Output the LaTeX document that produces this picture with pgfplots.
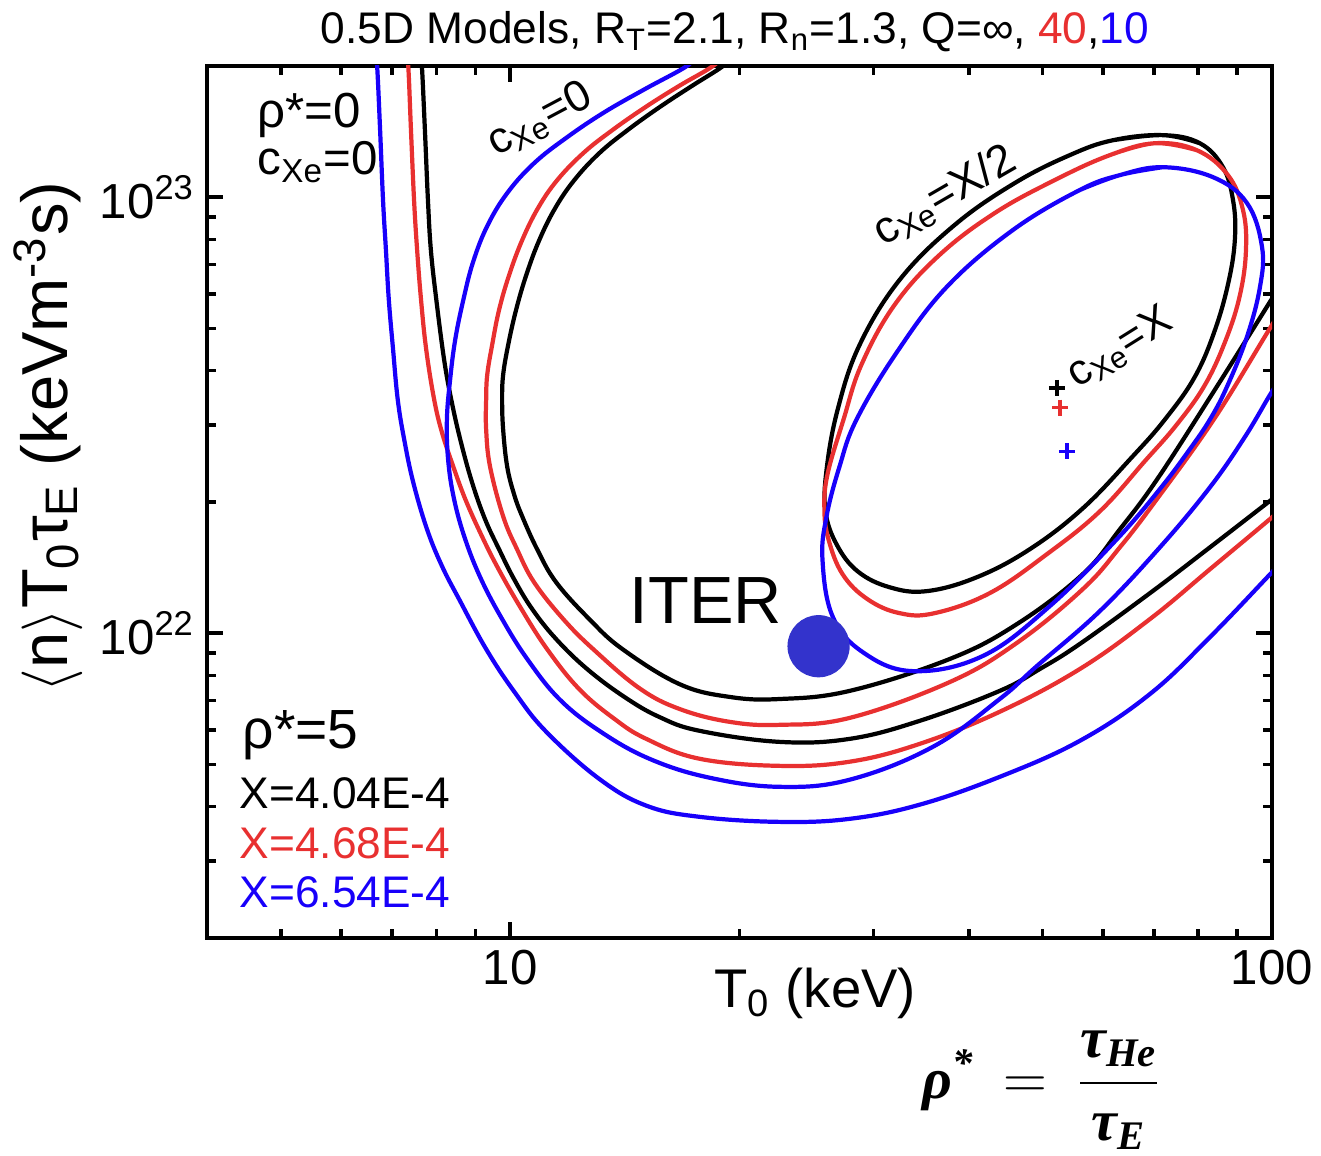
\documentclass[border=0pt]{standalone}
\usepackage{fontspec}
\setmainfont{Liberation Sans}
\newfontfamily\fserif{Liberation Serif}
\usepackage{amsmath}
\usepackage{pgfplots}
\pgfplotsset{compat=1.18}
\definecolor{cred}{RGB}{232,48,48}
\definecolor{cblue}{RGB}{24,0,250}
\definecolor{citer}{RGB}{51,51,204}
\newcommand{\bi}[1]{\text{\fserif\bfseries\itshape #1}}
\newcommand{\ylab}{\fontsize{18.5}{22}\selectfont $\langle$n$\rangle$T\textsubscript{0}τ\textsubscript{E} (keVm\textsuperscript{-3}s)}
\begin{document}
\begin{tikzpicture}
\path[use as bounding box] (0,0) rectangle (13.21cm,11.56cm);
\begin{axis}[
 at={(2.07cm,2.18cm)}, anchor=south west,
 scale only axis, width=10.65cm, height=8.72cm,
 xmode=log, ymode=log,
 xmin=4, xmax=100, ymin=2e21, ymax=2e23,
 xtick={10,100}, xticklabels={10,100},
 ytick={1e22,1e23}, yticklabels={10\textsuperscript{22},10\textsuperscript{23}},
 minor xtick={5,6,7,8,9,20,30,40,50,60,70,80,90},
 minor ytick={3e21,4e21,5e21,6e21,7e21,8e21,9e21,2e22,3e22,4e22,5e22,6e22,7e22,8e22,9e22},
 tick align=inside, tick pos=both,
 major tick length=4.5pt, minor tick length=2.5pt,
 every tick/.style={black, line width=1pt},
 axis line style={line width=1.2pt},
 ticklabel style={font=\fontsize{14}{14}\selectfont},
 /pgf/number format/assume math mode=true,
 every axis plot/.append style={line width=1.2pt, mark=none, tension=0.65},
]
% rho*=0, cXe=0
\addplot[cblue, smooth] coordinates {(6.65,2.17e23) (6.69,1.994e23) (6.75,1.423e23) (6.81,9.84e22) (6.87,7.56e22) (6.93,5.81e22) (7.02,4.47e22) (7.12,3.43e22) (7.26,2.78e22) (7.46,2.22e22) (7.78,1.730e22) (8.14,1.423e22) (8.57,1.196e22) (9.30,9.19e21) (10.13,7.33e21) (11.15,5.94e21) (13.09,4.63e21) (15.09,4.02e21) (17.72,3.79e21) (22.57,3.69e21) (27.90,3.75e21) (34.47,4.04e21) (43.91,4.68e21) (55.93,5.66e21) (69.16,7.25e21) (82.90,9.79e21) (100,1.379e22) (105.6,1.524e22)};
\addplot[cred, smooth] coordinates {(7.30,2.17e23) (7.35,1.994e23) (7.41,1.423e23) (7.48,9.84e22) (7.55,7.56e22) (7.64,5.81e22) (7.76,4.47e22) (7.95,3.43e22) (8.14,2.88e22) (8.42,2.41e22) (8.73,2.03e22) (9.13,1.703e22) (9.61,1.423e22) (10.31,1.147e22) (11.18,9.19e21) (12.32,7.44e21) (13.70,6.36e21) (15.09,5.72e21) (17.72,5.15e21) (22.57,4.96e21) (27.90,5.07e21) (34.47,5.57e21) (43.91,6.60e21) (55.93,8.27e21) (69.16,1.077e22) (82.90,1.401e22) (100,1.843e22) (105.6,2.005e22)};
\addplot[black, smooth] coordinates {(7.62,2.17e23) (7.66,1.994e23) (7.73,1.423e23) (7.80,9.84e22) (7.87,7.56e22) (8.00,5.81e22) (8.19,4.24e22) (8.37,3.43e22) (8.60,2.78e22) (8.91,2.22e22) (9.27,1.824e22) (9.67,1.557e22) (10.12,1.329e22) (10.69,1.135e22) (11.49,9.69e21) (12.62,8.27e21) (14.12,7.14e21) (15.70,6.42e21) (17.72,5.97e21) (22.57,5.63e21) (27.90,5.72e21) (34.47,6.29e21) (43.91,7.37e21) (49.56,8.27e21) (55.93,9.44e21) (69.16,1.235e22) (82.90,1.573e22) (100,2.027e22) (105.6,2.18e22)};
% rho*=5, cXe=0
\addplot[black, smooth] coordinates {(19.58,2.11e23) (19.00,1.994e23) (17.29,1.795e23) (15.70,1.607e23) (14.25,1.423e23) (13.09,1.261e23) (12.14,1.094e23) (11.46,9.44e22) (10.92,7.97e22) (10.50,6.63e22) (10.18,5.51e22) (9.94,4.58e22) (9.79,3.91e22) (9.76,3.43e22) (9.79,2.93e22) (9.91,2.41e22) (10.12,2.08e22) (10.37,1.853e22) (10.85,1.557e22) (11.49,1.308e22) (12.70,1.077e22) (14.04,9.19e21) (16.68,7.64e21) (19.40,7.14e21) (22.57,7.06e21) (27.90,7.37e21) (37.75,8.72e21) (46.23,1.048e22) (56.44,1.365e22) (63.14,1.730e22) (70.64,2.25e22) (84.18,3.62e22) (100,5.85e22) (105.6,6.81e22)};
\addplot[cred, smooth] coordinates {(18.99,2.11e23) (18.43,1.994e23) (16.63,1.795e23) (15.04,1.607e23) (13.61,1.423e23) (12.47,1.261e23) (11.53,1.094e23) (10.88,9.44e22) (10.37,7.97e22) (9.97,6.63e22) (9.67,5.51e22) (9.47,4.58e22) (9.33,3.91e22) (9.30,3.43e22) (9.30,2.93e22) (9.41,2.41e22) (9.79,1.853e22) (10.21,1.557e22) (10.75,1.308e22) (11.74,1.077e22) (12.85,9.19e21) (14.77,7.48e21) (16.68,6.70e21) (19.40,6.26e21) (22.57,6.16e21) (27.90,6.39e21) (37.75,7.72e21) (46.23,9.49e21) (56.44,1.261e22) (63.14,1.573e22) (70.64,2.03e22) (84.18,3.12e22) (100,5.09e22) (105.6,5.87e22)};
\addplot[cblue, smooth] coordinates {(17.56,2.113e23) (17.03,1.994e23) (15.00,1.766e23) (13.29,1.565e23) (11.88,1.372e23) (10.75,1.196e23) (9.91,1.021e23) (9.33,8.58e22) (8.94,7.10e22) (8.68,5.81e22) (8.47,4.71e22) (8.34,3.81e22) (8.26,3.09e22) (8.29,2.50e22) (8.44,2.03e22) (8.73,1.641e22) (9.16,1.329e22) (9.76,1.077e22) (10.53,8.72e21) (11.60,7.06e21) (13.09,5.97e21) (15.23,5.15e21) (18.26,4.66e21) (22.57,4.44e21) (27.90,4.61e21) (35.85,5.48e21) (43.91,7.06e21) (49.12,8.40e21) (59.43,1.123e22) (71.27,1.573e22) (82.90,2.16e22) (92.16,2.82e22) (100,3.58e22) (105.6,4.11e22)};
% rho*=5, cXe=X/2 (closed)
\addplot[black, smooth] coordinates {(61.81,1.350e23) (71.92,1.387e23) (80.4,1.329e23) (86.23,1.171e23) (88.89,9.84e22) (89.43,8.10e22) (87.81,6.46e22) (84.18,4.96e22) (79.2,3.87e22) (72.35,3.09e22) (65.46,2.53e22) (56.44,1.932e22) (48.08,1.557e22) (40.97,1.343e22) (35.21,1.248e22) (31.48,1.274e22) (28.58,1.386e22) (26.82,1.598e22) (25.94,1.902e22) (26.02,2.37e22) (26.90,3.25e22) (28.75,4.58e22) (32.45,6.46e22) (38.32,8.63e22) (45.96,1.077e23) (54.27,1.248e23) (61.81,1.350e23) (71.92,1.387e23) (80.4,1.329e23)};
\addplot[cred, smooth] coordinates {(61.25,1.248e23) (70.21,1.329e23) (79.7,1.281e23) (87.53,1.123e23) (91.61,9.34e22) (92.44,7.56e22) (90.78,5.97e22) (87.0,4.71e22) (81.66,3.71e22) (75.02,3.01e22) (68.1,2.48e22) (59.43,1.902e22) (50.62,1.516e22) (42.61,1.235e22) (36.07,1.111e22) (32.45,1.111e22) (29.45,1.196e22) (27.31,1.365e22) (26.17,1.641e22) (25.85,1.922e22) (26.09,2.31e22) (27.39,3.09e22) (28.92,4.13e22) (31.96,5.66e22) (36.62,7.37e22) (43.25,9.19e22) (51.86,1.094e23) (61.25,1.248e23) (70.21,1.329e23) (79.7,1.281e23)};
\addplot[cblue, smooth] coordinates {(55.93,1.038e23) (63.14,1.123e23) (71.92,1.171e23) (83.66,1.111e23) (92.71,9.69e22) (97.03,7.69e22) (96.43,6.22e22) (92.71,4.78e22) (87.26,3.67e22) (82.90,3.09e22) (78.0,2.64e22) (71.27,2.14e22) (62.56,1.641e22) (51.09,1.153e22) (41.72,8.86e21) (33.76,8.18e21) (29.01,9.05e21) (26.49,1.094e22) (25.70,1.477e22) (26.02,1.853e22) (27.06,2.41e22) (28.49,3.09e22) (32.16,4.40e22) (37.41,6.22e22) (45.68,8.40e22) (55.93,1.038e23) (63.14,1.123e23) (71.92,1.171e23)};
% cXe=X points
\addplot[only marks, mark=+, mark size=0.8mm, black, line width=1pt] coordinates {(52.2,3.65e22)};
\addplot[only marks, mark=+, mark size=0.8mm, cred, line width=1pt] coordinates {(52.7,3.29e22)};
\addplot[only marks, mark=+, mark size=0.8mm, cblue, line width=1pt] coordinates {(53.8,2.61e22)};
% ITER
\addplot[only marks, mark=*, mark size=2.9mm, citer, mark options={fill=citer, draw=citer}] coordinates {(25.4,9.33e21)};
\end{axis}
\begin{scope}[x=0.1mm, y=-0.1mm, yshift=11.56cm]
\node at (735,32) {\fontsize{12.6}{14}\selectfont 0.5D Models, R\textsubscript{T}=2.1, R\textsubscript{n}=1.3, Q=∞, \textcolor{cred}{40},\textcolor{cblue}{10}};
\node[anchor=west, inner sep=0] at (257,115) {\fontsize{14}{16}\selectfont ρ*=0};
\node[anchor=west, inner sep=0] at (257,162) {\fontsize{13.5}{16}\selectfont c\textsubscript{Xe}=0};
\node[rotate=28] at (540,120) {\fontsize{12.5}{15}\selectfont c\textsubscript{Xe}=0};
\node[rotate=30] at (945,196) {\fontsize{12.8}{15}\selectfont c\textsubscript{Xe}=X/2};
\node[rotate=32] at (1120,348) {\fontsize{12.3}{15}\selectfont c\textsubscript{Xe}=X};
\node at (706,601) {\fontsize{19}{22}\selectfont ITER};
\node[anchor=west, inner sep=0] at (242,735) {\fontsize{15.7}{18}\selectfont ρ*=5};
\node[anchor=west, inner sep=0] at (239,793) {\fontsize{12.6}{14}\selectfont X=4.04E-4};
\node[anchor=west, inner sep=0, text=cred] at (239,843) {\fontsize{12.6}{14}\selectfont X=4.68E-4};
\node[anchor=west, inner sep=0, text=cblue] at (239,892) {\fontsize{12.6}{14}\selectfont X=6.54E-4};
\node at (815,993) {\fontsize{15.5}{18}\selectfont T\textsubscript{0} (keV)};
\node[rotate=90] at (48,437) {\ylab};
\node[font=\fontsize{16.5}{20}\selectfont, inner sep=0] at (1042,1090) {$\bi{ρ}^{\bi{*}}\enspace\mathbf{=}\enspace\dfrac{\bi{τ}_{\bi{He}}}{\bi{τ}_{\bi{E}}}$};
\end{scope}
\end{tikzpicture}
\end{document}
